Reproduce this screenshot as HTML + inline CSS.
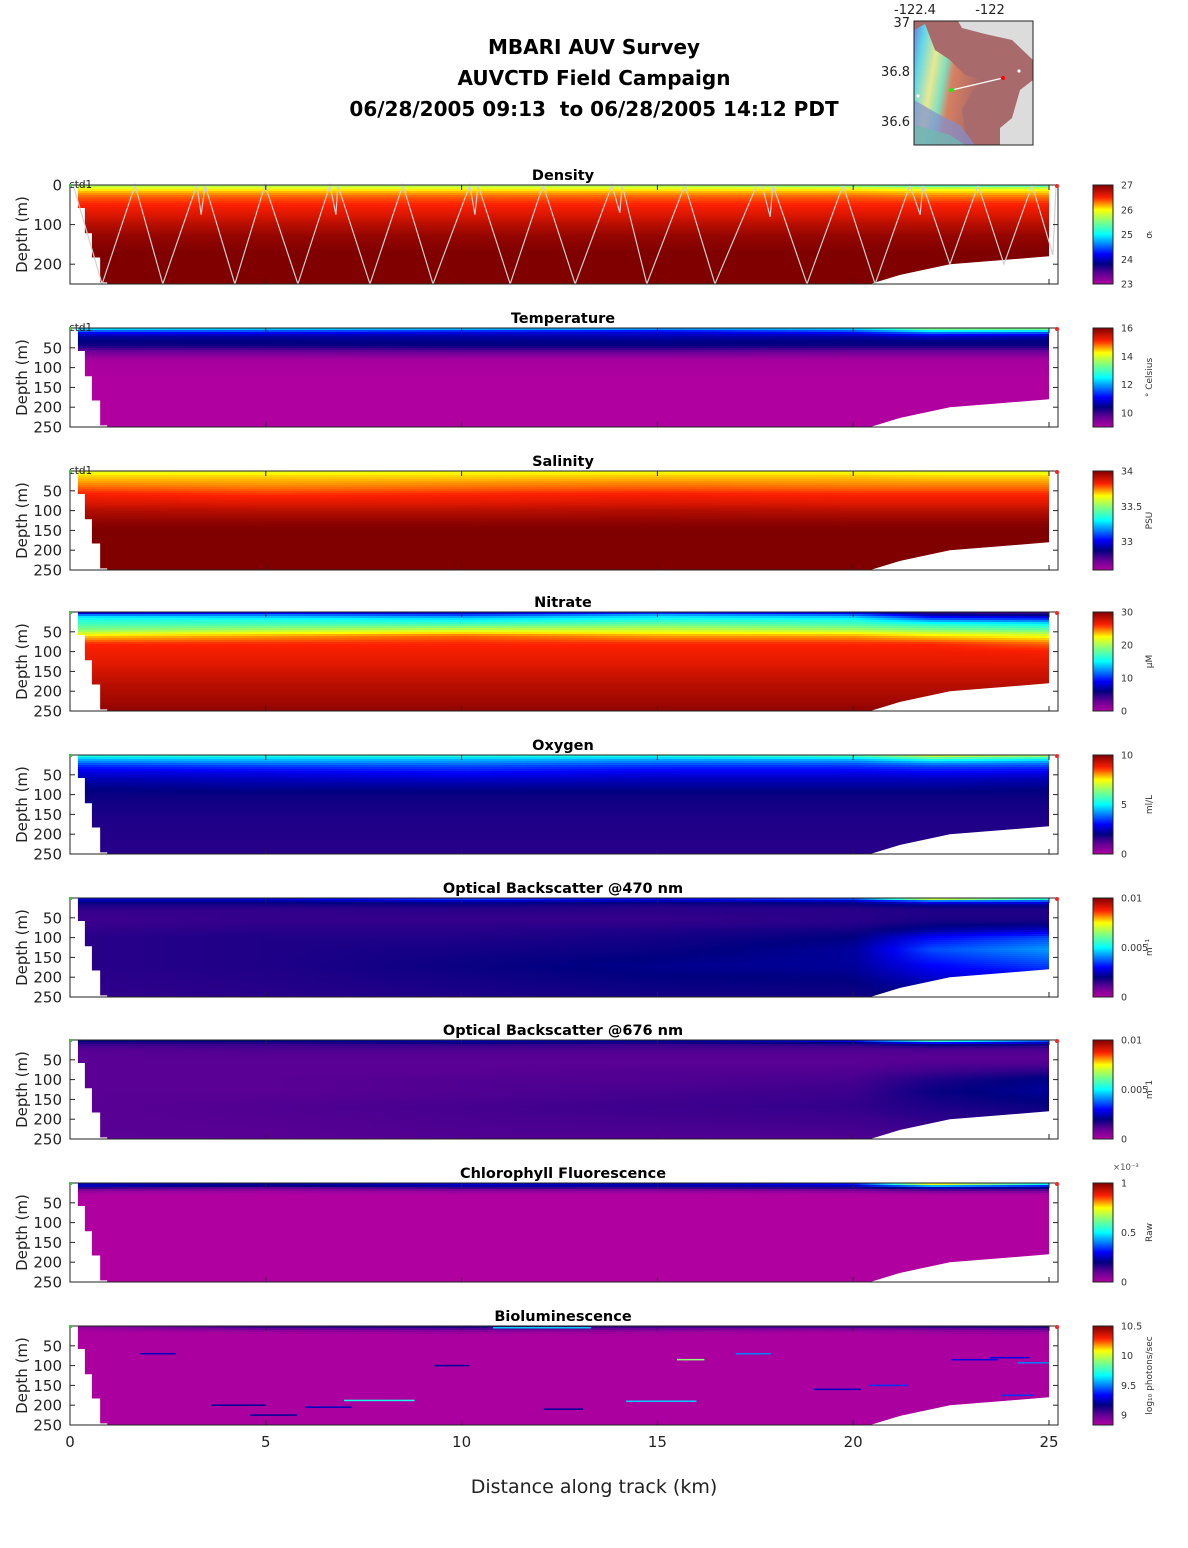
<!DOCTYPE html>
<html><head><meta charset="utf-8">
<style>
html,body{margin:0;padding:0;background:#fff;}
svg{display:block;font-family:"DejaVu Sans","Liberation Sans",sans-serif;}
</style></head>
<body>
<svg id="fig" width="1188" height="1548" viewBox="0 0 1188 1548" xmlns="http://www.w3.org/2000/svg">
<rect width="1188" height="1548" fill="#fff"/>
<g font-weight="bold" font-size="20" text-anchor="middle" fill="#000">
<text x="594" y="54">MBARI AUV Survey</text>
<text x="594" y="85">AUVCTD Field Campaign</text>
<text x="594" y="116">06/28/2005 09:13&#160; to 06/28/2005 14:12 PDT</text>
</g>
<g>
<defs>
<linearGradient id="mapg" x1="0" y1="0" x2="1" y2="0.3">
<stop offset="0" stop-color="#6a7fe0"/><stop offset="0.15" stop-color="#60d8e8"/><stop offset="0.35" stop-color="#e8e890"/><stop offset="0.5" stop-color="#80e0c0"/><stop offset="0.62" stop-color="#d88060"/><stop offset="1" stop-color="#a86868"/>
</linearGradient>
</defs>
<rect x="914" y="21" width="119" height="124" fill="#a86a6a"/>
<polygon points="958,21 1033,21 1033,60 1012,40 985,34 962,28" fill="#dcdcdc"/>
<polygon points="1020,90 1033,80 1033,145 1000,145 1000,128 1012,118" fill="#dcdcdc"/>
<polygon points="914,30 925,24 935,50 950,60 965,75 985,80 972,92 962,110 968,145 914,145" fill="url(#mapg)"/>
<polygon points="914,100 940,115 960,125 975,145 914,145" fill="#8090d0" opacity="0.7"/>
<polygon points="914,125 950,135 965,145 914,145" fill="#70b8b0" opacity="0.8"/>
<line x1="952" y1="90" x2="1003" y2="78" stroke="#fff" stroke-width="1.2"/>
<circle cx="952" cy="90" r="2" fill="#0f0"/><circle cx="1003" cy="78" r="2" fill="#f00"/>
<circle cx="1019" cy="71" r="1.6" fill="#fff"/><circle cx="918" cy="96" r="1.6" fill="#fff"/>
<rect x="914" y="21" width="119" height="124" fill="none" stroke="#222" stroke-width="1"/>
<g font-size="13" fill="#222">
<text x="915" y="14" text-anchor="middle">-122.4</text>
<text x="990" y="14" text-anchor="middle">-122</text>
<text x="910" y="27" text-anchor="end">37</text>
<text x="910" y="76" text-anchor="end">36.8</text>
<text x="910" y="126" text-anchor="end">36.6</text>
</g>
</g>
<g id="panels"></g>
<g id="xaxis" font-size="15" fill="#222" text-anchor="middle"></g>
<text x="594" y="1493" font-size="19" text-anchor="middle" fill="#222">Distance along track (km)</text>
</svg>
<script>
// ---------- shared data grid ----------
const gridDist = [0, 5, 10, 15, 20, 22, 25];
const gridDepth = [0, 5, 10, 20, 30, 45, 60, 80, 100, 130, 170, 250];
// bathymetry / coverage mask
const leftStepDist = [0.2, 0.38, 0.56, 0.77, 0.95];
const leftStepDepth = [58, 122, 183, 246, 250];
const rightBottomDist = [20.43, 21.2, 22.47, 23.75, 25];
const rightBottomDepth = [250, 227, 200, 190, 180];
// AUV yo-yo track (density panel)
const trackDist = [0.08,0.82,1.66,2.37,3.24,3.35,3.45,4.21,4.98,5.82,6.64,6.79,6.84,7.66,8.50,9.27,10.21,10.34,10.42,11.24,12.08,12.90,13.84,14.04,14.10,14.73,15.70,16.47,17.54,17.67,17.88,17.95,18.82,19.74,20.56,21.45,21.71,21.78,22.47,23.19,23.85,24.57,25.1,25.18];
const trackDepth = [0,250,0,250,0,75,0,250,0,250,0,75,0,250,0,250,0,75,0,250,0,250,0,70,0,250,0,250,0,0,80,0,250,0,250,0,75,0,200,0,200,0,177,0];

// ---------- per-variable values (rows = gridDepth, cols = gridDist) ----------
const densityVals = [
 [25.6,25.6,25.6,25.6,25.4,25.1,25.1],
 [25.8,25.8,25.8,25.8,25.7,25.6,25.6],
 [26.0,26.0,26.0,26.0,26.0,25.9,25.9],
 [26.2,26.2,26.2,26.2,26.2,26.15,26.15],
 [26.35,26.35,26.35,26.35,26.35,26.3,26.3],
 [26.45,26.45,26.45,26.45,26.45,26.45,26.45],
 [26.55,26.55,26.55,26.55,26.55,26.55,26.55],
 [26.65,26.65,26.65,26.65,26.65,26.65,26.65],
 [26.78,26.78,26.78,26.78,26.78,26.78,26.78],
 [26.92,26.92,26.92,26.92,26.92,26.92,26.92],
 [27.0,27.0,27.0,27.0,27.0,27.0,27.0],
 [27.1,27.1,27.1,27.1,27.1,27.1,27.1]];
const temperatureVals = [
 [12.5,12.4,12.4,12.2,12.4,13.6,13.5],
 [12.0,11.9,11.7,11.5,11.9,13.0,13.0],
 [11.3,11.2,11.0,10.9,11.3,12.0,11.8],
 [10.6,10.6,10.6,10.7,10.6,10.9,10.7],
 [10.45,10.45,10.5,10.5,10.45,10.5,10.45],
 [10.25,10.3,10.35,10.35,10.3,10.3,10.3],
 [9.6,9.6,9.7,9.7,9.6,9.6,9.6],
 [9.1,9.1,9.1,9.1,9.1,9.1,9.1],
 [9.05,9.05,9.05,9.05,9.05,9.05,9.05],
 [9.0,9.0,9.0,9.0,9.0,9.0,9.0],
 [9.0,9.0,9.0,9.0,9.0,9.0,9.0],
 [9.0,9.0,9.0,9.0,9.0,9.0,9.0]];
const salinityVals = [
 [33.6,33.61,33.62,33.62,33.62,33.6,33.6],
 [33.64,33.64,33.65,33.65,33.65,33.64,33.64],
 [33.67,33.67,33.67,33.68,33.68,33.67,33.67],
 [33.7,33.7,33.7,33.71,33.71,33.7,33.7],
 [33.73,33.72,33.73,33.74,33.73,33.73,33.73],
 [33.78,33.76,33.77,33.78,33.77,33.77,33.77],
 [33.83,33.81,33.82,33.83,33.82,33.82,33.82],
 [33.87,33.86,33.86,33.87,33.86,33.86,33.86],
 [33.93,33.92,33.92,33.93,33.92,33.92,33.92],
 [33.98,33.98,33.98,33.98,33.98,33.98,33.98],
 [34.03,34.03,34.03,34.03,34.03,34.03,34.03],
 [34.05,34.05,34.05,34.05,34.05,34.05,34.05]];
const nitrateVals = [
 [6,7,7,8,7,4,4],
 [10,11,9,12,10,6,5],
 [14,13,12,14,13,8,7],
 [16,16,15,16,16,12,11],
 [17,17,17,18,17,16,15],
 [19,20,21,21,20,19,18],
 [23,24,25,24,24,23,22],
 [26,26,26,26,26,26,25],
 [26.5,26.5,26.5,26.5,26.5,26.5,26.3],
 [27,27,27,27,27,27,27],
 [28,28,28,28,28,28,28],
 [29.5,29.5,29.5,29.5,29.5,29.5,29.5]];
const oxygenVals = [
 [5.5,5.5,5.5,5.3,6.0,7.2,7.0],
 [5.0,5.0,5.0,5.0,5.3,6.5,6.0],
 [4.5,4.6,4.5,4.4,4.5,5.5,5.0],
 [3.8,4.0,4.0,3.8,3.8,4.2,4.0],
 [3.2,3.4,3.5,3.3,3.3,3.5,3.4],
 [2.7,2.8,3.0,2.8,2.8,2.9,2.8],
 [2.4,2.5,2.6,2.5,2.5,2.5,2.4],
 [2.1,2.2,2.2,2.2,2.2,2.2,2.1],
 [1.9,1.9,1.9,1.9,1.9,1.9,1.9],
 [1.8,1.8,1.8,1.8,1.8,1.8,1.8],
 [1.7,1.7,1.7,1.7,1.7,1.7,1.7],
 [1.6,1.6,1.6,1.6,1.6,1.6,1.6]];
const bb470Vals = [
 [0.003,0.003,0.0038,0.003,0.004,0.009,0.006],
 [0.0025,0.0025,0.003,0.0028,0.003,0.005,0.0045],
 [0.002,0.002,0.0022,0.002,0.0022,0.003,0.003],
 [0.0017,0.0017,0.0018,0.0017,0.0018,0.002,0.002],
 [0.0015,0.0015,0.0016,0.0016,0.0016,0.0017,0.0017],
 [0.0014,0.0015,0.0015,0.0015,0.0016,0.0017,0.0017],
 [0.0014,0.0015,0.0015,0.0015,0.0016,0.0018,0.0018],
 [0.0015,0.0016,0.0016,0.0017,0.0018,0.0022,0.0025],
 [0.0016,0.0017,0.0017,0.0018,0.002,0.003,0.0036],
 [0.0016,0.0017,0.0018,0.0019,0.0022,0.0036,0.0042],
 [0.0016,0.0017,0.0019,0.0021,0.0022,0.003,0.0035],
 [0.0015,0.0016,0.0017,0.0018,0.0018,0.002,0.002]];
const bb676Vals = [
 [0.0022,0.0022,0.0025,0.0022,0.003,0.0072,0.004],
 [0.0018,0.0018,0.0022,0.002,0.0024,0.004,0.003],
 [0.0015,0.0015,0.0016,0.0015,0.0017,0.0022,0.002],
 [0.0012,0.0013,0.0013,0.0013,0.0013,0.0014,0.0014],
 [0.0011,0.0012,0.0012,0.0012,0.0012,0.0012,0.0012],
 [0.0011,0.0011,0.0011,0.0011,0.0011,0.0011,0.0011],
 [0.0011,0.0011,0.0011,0.0011,0.0011,0.0012,0.0012],
 [0.0011,0.0011,0.0011,0.0012,0.0012,0.0014,0.0016],
 [0.0011,0.0011,0.0012,0.0012,0.0013,0.0017,0.0021],
 [0.0011,0.0011,0.0012,0.0013,0.0014,0.0019,0.0022],
 [0.0011,0.0012,0.0013,0.0014,0.0015,0.0017,0.0019],
 [0.0011,0.0011,0.0012,0.0012,0.0012,0.0013,0.0013]];
const chlVals = [
 [0.0002,0.0002,0.00022,0.0002,0.0003,0.0009,0.0006],
 [0.0003,0.00025,0.0003,0.00028,0.0003,0.0006,0.0004],
 [0.0002,0.00012,0.00018,0.00018,0.0002,0.0003,0.00025],
 [0.00004,0.00003,0.00004,0.00004,0.00005,0.00008,0.00008],
 [0,0,0,0,0,0,0],[0,0,0,0,0,0,0],[0,0,0,0,0,0,0],[0,0,0,0,0,0,0],
 [0,0,0,0,0,0,0],[0,0,0,0,0,0,0],[0,0,0,0,0,0,0],[0,0,0,0,0,0,0]];
const bioVals = [
 [8.9,9.1,9.15,9.1,9.1,9.12,9.15],
 [8.88,9.05,9.1,9.02,9.0,9.05,9.08],
 [8.86,8.92,8.95,8.92,8.9,8.92,8.95],
 [8.84,8.84,8.85,8.85,8.84,8.86,8.86],
 [8.84,8.84,8.84,8.84,8.84,8.84,8.84],
 [8.84,8.84,8.84,8.84,8.84,8.84,8.84],
 [8.84,8.84,8.84,8.84,8.84,8.84,8.84],
 [8.84,8.84,8.84,8.84,8.84,8.84,8.84],
 [8.84,8.84,8.84,8.84,8.84,8.84,8.84],
 [8.84,8.84,8.84,8.84,8.84,8.84,8.84],
 [8.84,8.84,8.84,8.84,8.84,8.84,8.84],
 [8.84,8.84,8.84,8.84,8.84,8.84,8.84]];
// bioluminescence flash streaks
const bioStreakDist = [1.8,3.6,4.6,7.0,10.8,12.1,14.2,15.5,17.0,19.0,20.4,22.5,23.5,24.2,23.8,6.0,9.3];
const bioStreakDepth = [70,200,225,188,3,210,190,85,70,160,150,85,80,93,175,205,100];
const bioStreakLen = [0.9,1.4,1.2,1.8,2.5,1.0,1.8,0.7,0.9,1.2,1.0,1.2,1.0,1.0,0.8,1.2,0.9];
const bioStreakVal = [9.25,9.2,9.2,9.7,9.6,9.2,9.6,9.9,9.5,9.25,9.4,9.3,9.3,9.5,9.4,9.25,9.2];

const panelTitles = ["Density","Temperature","Salinity","Nitrate","Oxygen","Optical Backscatter @470 nm","Optical Backscatter @676 nm","Chlorophyll Fluorescence","Bioluminescence"];
const panelMin = [23,9,32.6,0,0,0,0,0,8.83];
const panelMax = [27,16,34,30,10,0.01,0.01,0.001,10.5];
const cbarTicks = [[23,24,25,26,27],[10,12,14,16],[33,33.5,34],[0,10,20,30],[0,5,10],[0,0.005,0.01],[0,0.005,0.01],[0,0.0005,0.001],[9,9.5,10,10.5]];
const cbarTickLabels = [["23","24","25","26","27"],["10","12","14","16"],["33","33.5","34"],["0","10","20","30"],["0","5","10"],["0","0.005","0.01"],["0","0.005","0.01"],["0","0.5","1"],["9","9.5","10","10.5"]];
const cbarUnits = ["σ\u209C","° Celsius","PSU","μM","ml/L","m⁻¹","m⁻1","Raw","log\u2081\u2080 photons/sec"];
const panelNames = ["density","temperature","salinity","nitrate","oxygen","backscatter-470","backscatter-676","chlorophyll","bioluminescence"];
const xTicks = [0,5,10,15,20,25];
const allVals = [densityVals,temperatureVals,salinityVals,nitrateVals,oxygenVals,bb470Vals,bb676Vals,chlVals,bioVals];

// ---------- layout ----------
const NS = "http://www.w3.org/2000/svg";
const panelTop = [185,328,471,612,755,898,1040,1183,1326];
const PH = 99, XL = 70, XR = 1058, CBX = 1093, CBW = 20;
const xScale = d => XL + d * (1049 - 70) / 25;
const yScale = (top, z) => top + z / 250 * PH;

const cmStops = [[0,[176,0,160]],[0.1,[100,0,150]],[0.2,[0,0,128]],[0.3,[0,0,255]],[0.5,[0,255,255]],[0.63,[128,255,128]],[0.75,[255,255,0]],[0.87,[255,32,0]],[1,[128,0,0]]];
function cmap(t){
  t = Math.max(0, Math.min(1, t));
  for (let i = 1; i < cmStops.length; i++) {
    if (t <= cmStops[i][0]) {
      const a = cmStops[i-1], b = cmStops[i], f = (t - a[0]) / (b[0] - a[0]);
      const c = a[1].map((v, k) => Math.round(v + (b[1][k] - v) * f));
      return `rgb(${c[0]},${c[1]},${c[2]})`;
    }
  }
  return "rgb(128,0,0)";
}
function locate(arr, v){
  if (v <= arr[0]) return [0, 0];
  for (let i = 1; i < arr.length; i++) if (v <= arr[i]) return [i-1, (v - arr[i-1]) / (arr[i] - arr[i-1])];
  return [arr.length - 2, 1];
}
function sample(vals, d, z){
  const [i, fi] = locate(gridDepth, z), [j, fj] = locate(gridDist, d);
  const a = vals[i][j] + (vals[i][j+1] - vals[i][j]) * fj;
  const b = vals[i+1][j] + (vals[i+1][j+1] - vals[i+1][j]) * fj;
  return a + (b - a) * fi;
}
function mk(tag, attrs, parent){
  const e = document.createElementNS(NS, tag);
  for (const k in attrs) e.setAttribute(k, attrs[k]);
  parent.appendChild(e);
  return e;
}

const root = document.getElementById("panels");
const defs = mk("defs", {}, root);
const rowH = 2, nStops = 26;

panelTop.forEach((top, p) => {
  const g = mk("g", {}, root);
  
  
  const vals = allVals[p], vmin = panelMin[p], vmax = panelMax[p];
  const hm = mk("g", {}, g);
  
  
  const d0 = 0.2, d1 = 25;
  for (let y = 0; y < PH; y += rowH) {
    const z = (y + rowH / 2) / PH * 250;
    const id = `g${p}_${y}`;
    const lg = mk("linearGradient", {id: id, gradientUnits: "userSpaceOnUse", x1: xScale(d0), x2: xScale(d1), y1: 0, y2: 0}, defs);
    for (let s = 0; s < nStops; s++) {
      const d = d0 + (d1 - d0) * s / (nStops - 1);
      const v = sample(vals, d, z);
      mk("stop", {offset: s / (nStops - 1), "stop-color": cmap((v - vmin) / (vmax - vmin))}, lg);
    }
    const h = Math.min(rowH + 0.5, PH - y);
    const r = mk("rect", {x: xScale(d0), y: top + y, width: xScale(d1) - xScale(d0), height: h, fill: `url(#${id})`}, hm);
    
    
  }
  if (p === 8) {
    bioStreakDist.forEach((d, k) => {
      const r = mk("rect", {x: xScale(d), y: Math.max(top + 1, yScale(top, bioStreakDepth[k]) - 0.75), width: xScale(d + bioStreakLen[k]) - xScale(d), height: 1.5, fill: cmap((bioStreakVal[k] - vmin) / (vmax - vmin))}, hm);
      
      
    });
  }
  // coverage mask
  let pts = [];
  pts.push([xScale(0), top], [xScale(leftStepDist[0]), top]);
  for (let k = 0; k < leftStepDist.length - 1; k++) {
    pts.push([xScale(leftStepDist[k]), yScale(top, leftStepDepth[k])]);
    pts.push([xScale(leftStepDist[k+1]), yScale(top, leftStepDepth[k])]);
  }
  pts.push([xScale(leftStepDist[leftStepDist.length-1]), top + PH], [xScale(0), top + PH]);
  const m1 = mk("polygon", {points: pts.map(q => q.join(",")).join(" "), fill: "#fff"}, g);
  
  
  let rp = rightBottomDist.map((d, k) => [xScale(d), yScale(top, rightBottomDepth[k])]);
  rp.push([XR, yScale(top, rightBottomDepth[rightBottomDepth.length-1])], [XR, top + PH], [xScale(rightBottomDist[0]), top + PH]);
  const m2 = mk("polygon", {points: rp.map(q => q.join(",")).join(" "), fill: "#fff"}, g);
  
  
  const m3 = mk("rect", {x: xScale(25), y: top, width: XR - xScale(25), height: PH, fill: "#fff"}, g);
  
  

  if (p === 0) {
    const tr = mk("polyline", {points: trackDist.map((d, k) => xScale(d) + "," + yScale(top, trackDepth[k])).join(" "), fill: "none", stroke: "#d0d0d0", "stroke-width": 1.2}, g);
    
    
  }
  // axes frame
  const fr = mk("rect", {x: XL, y: top, width: XR - XL, height: PH, fill: "none", stroke: "#222", "stroke-width": 1}, g);
  
  
  xTicks.forEach(t => {
    mk("line", {x1: xScale(t), x2: xScale(t), y1: top, y2: top + 5, stroke: "#222"}, g);
    mk("line", {x1: xScale(t), x2: xScale(t), y1: top + PH, y2: top + PH - 5, stroke: "#222"}, g);
  });
  const yt = p === 0 ? [0, 100, 200] : [50, 100, 150, 200, 250];
  yt.forEach(z => {
    const yy = yScale(top, z);
    mk("line", {x1: XL, x2: XL + 5, y1: yy, y2: yy, stroke: "#222"}, g);
    mk("line", {x1: XR, x2: XR - 5, y1: yy, y2: yy, stroke: "#222"}, g);
    const tx = mk("text", {x: 62, y: yy + 5.5, "font-size": 15, "text-anchor": "end", fill: "#222"}, g);
    tx.textContent = String(z);
    
    
  });
  const yl = mk("text", {x: 0, y: 0, "font-size": 15, "text-anchor": "middle", fill: "#222", transform: `translate(27,${top + PH / 2}) rotate(-90)`}, g);
  yl.textContent = "Depth (m)";
  
  
  const tt = mk("text", {x: 563, y: top - 5, "font-size": 14.5, "font-weight": "bold", "text-anchor": "middle", fill: "#000"}, g);
  tt.textContent = panelTitles[p];
  
  
  if (p < 3) {
    const c = mk("text", {x: 69, y: top + 3, "font-size": 10.5, fill: "#222"}, g);
    c.textContent = "ctd1";
    
    
  }
  mk("rect", {x: 69, y: top - 1, width: 3, height: 3, fill: "#3c3"}, g);
  const rd = mk("circle", {cx: XR - 1, cy: top + 1, r: 2, fill: "#f22"}, g);
  
  

  // colorbar
  const cb = mk("g", {}, g);
  
  
  const cid = "cb" + p;
  const clg = mk("linearGradient", {id: cid, x1: 0, y1: 1, x2: 0, y2: 0}, defs);
  for (let s = 0; s <= 40; s++) mk("stop", {offset: s / 40, "stop-color": cmap(s / 40)}, clg);
  mk("rect", {x: CBX, y: top, width: CBW, height: PH, fill: `url(#${cid})`, stroke: "#222", "stroke-width": 1}, cb);
  cbarTicks[p].forEach((v, k) => {
    const yy = top + PH - (v - panelMin[p]) / (panelMax[p] - panelMin[p]) * PH;
    const t = mk("text", {x: 1121, y: yy + 3.5, "font-size": 9.5, fill: "#333"}, cb);
    t.textContent = cbarTickLabels[p][k];
    
    
  });
  const u = mk("text", {x: 0, y: 0, "font-size": 9, "text-anchor": "middle", fill: "#333", transform: `translate(1152,${top + PH / 2}) rotate(-90)`}, cb);
  u.textContent = cbarUnits[p];
  
  
  if (p === 7) {
    const ex = mk("text", {x: 1113, y: top - 13, "font-size": 8.5, fill: "#555"}, cb);
    ex.textContent = "×10⁻³";
    
    
  }
});

const xa = document.getElementById("xaxis");
xTicks.forEach(t => {
  const tx = mk("text", {x: xScale(t), y: 1447}, xa);
  tx.textContent = String(t);
  
  
});
</script>
</body></html>
